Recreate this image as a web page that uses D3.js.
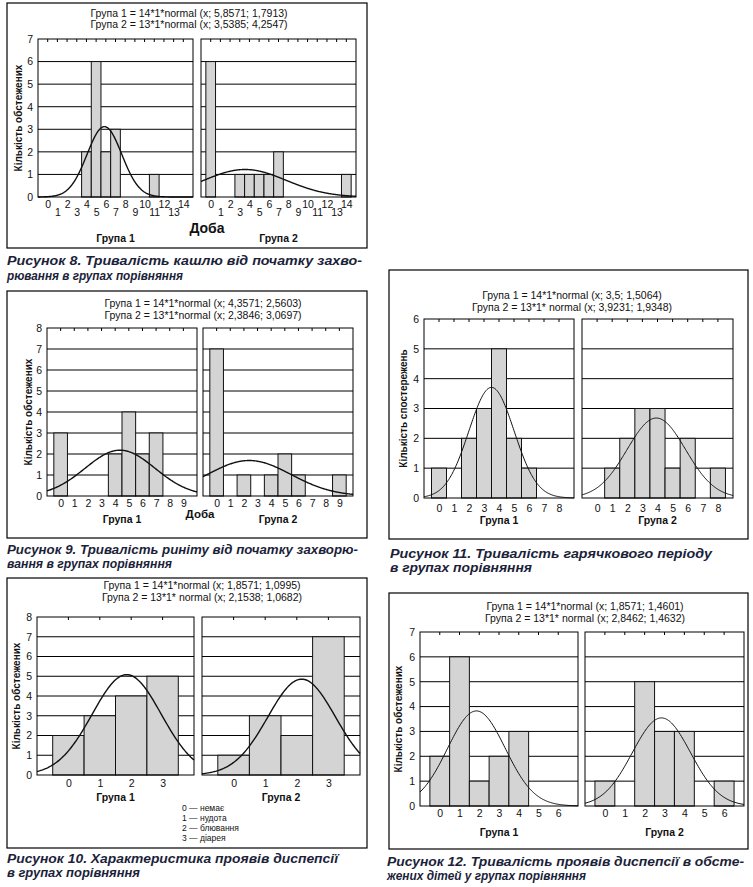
<!DOCTYPE html>
<html>
<head>
<meta charset="utf-8">
<script src="https://cdn.jsdelivr.net/npm/d3@7"></script>
<style>
body { margin: 0; background: #fff; }
svg { display: block; }
text { font-family: "Liberation Sans", Arial, sans-serif; fill: #111; }
</style>
</head>
<body>
<svg id="chart" width="753" height="887"></svg>
<script>
// ---- data ----
var groupNames = ["Група 1", "Група 2"];

// Fig 8: cough duration (days)
var fig8Days = [0, 1, 2, 3, 4, 5, 6, 7, 8, 9, 10, 11, 12, 13, 14];
var fig8Group1 = [0, 0, 0, 0, 2, 6, 2, 3, 0, 0, 0, 1, 0, 0, 0];
var fig8Group2 = [6, 0, 0, 1, 1, 1, 1, 2, 0, 0, 0, 0, 0, 0, 1];
var fig8Fit = [[14, 5.8571, 1.7913], [13, 3.5385, 4.2547]];

// Fig 9: rhinitis duration (days)
var fig9Days = [0, 1, 2, 3, 4, 5, 6, 7, 8, 9];
var fig9Group1 = [3, 0, 0, 0, 2, 4, 2, 3, 0, 0];
var fig9Group2 = [7, 0, 1, 0, 1, 2, 1, 0, 0, 1];
var fig9Fit = [[14, 4.3571, 2.5603], [13, 2.3846, 3.0697]];

// Fig 10: dyspepsia type
var fig10Codes = [0, 1, 2, 3];
var fig10Group1 = [2, 3, 4, 5];
var fig10Group2 = [1, 3, 2, 7];
var fig10Fit = [[14, 1.8571, 1.0995], [13, 2.1538, 1.0682]];
var fig10Legend = ["0 — немає", "1 — нудота", "2 — блювання", "3 — діарея"];

// Fig 11: fever duration
var fig11Days = [0, 1, 2, 3, 4, 5, 6, 7, 8];
var fig11Group1 = [1, 0, 2, 3, 5, 2, 1, 0, 0];
var fig11Group2 = [0, 1, 2, 3, 3, 1, 2, 0, 1];
var fig11Fit = [[14, 3.5, 1.5064], [13, 3.9231, 1.9348]];

// Fig 12: dyspepsia duration
var fig12Days = [0, 1, 2, 3, 4, 5, 6];
var fig12Group1 = [2, 6, 1, 2, 3, 0, 0];
var fig12Group2 = [1, 0, 5, 3, 3, 0, 1];
var fig12Fit = [[14, 1.8571, 1.4601], [13, 2.8462, 1.4632]];

var svg = d3.select("#chart");
var intFmt = d3.format("d");

function comma(v) { return String(v).replace(".", ","); }

// the fitted curve named in each figure title: n * 1 * normal(x; mean; sd)
function normalPoints(fit, domain) {
    var n = fit[0], m = fit[1], s = fit[2];
    return d3.range(domain[0], domain[1] + 0.0001, 0.05).map(function (x) {
        return [x, n * Math.exp(-0.5 * Math.pow((x - m) / s, 2)) / (s * Math.sqrt(2 * Math.PI))];
    });
}

function drawPanel(g, fig, p, values, fit) {
    var x0 = fig.panels[p][0], x1 = fig.panels[p][1];
    var xScale = d3.scaleLinear().domain(fig.xDomain).range([x0, x1]);
    var yScale = d3.scaleLinear().domain([0, fig.yMax]).range([fig.bottom, fig.top]);

    // horizontal grid
    g.selectAll("line.grid-" + p)
        .data(d3.range(1, fig.yMax))
        .enter().append("line")
        .attr("x1", x0).attr("x2", x1)
        .attr("y1", function (d) { return yScale(d); })
        .attr("y2", function (d) { return yScale(d); })
        .attr("stroke", "#000").attr("stroke-width", 1);

    // bars
    g.selectAll("rect.bar-" + p)
        .data(fig.cats.map(function (c, i) { return { c: c, v: values[i] }; })
            .filter(function (d) { return d.v > 0; }))
        .enter().append("rect")
        .attr("x", function (d) { return xScale(d.c - 0.5); })
        .attr("width", function (d) { return xScale(d.c + 0.5) - xScale(d.c - 0.5); })
        .attr("y", function (d) { return yScale(d.v); })
        .attr("height", function (d) { return yScale(0) - yScale(d.v); })
        .attr("fill", "#d4d4d4")
        .attr("stroke", "#111")
        .attr("stroke-width", 1);

    // normal fit
    var line = d3.line()
        .x(function (d) { return xScale(d[0]); })
        .y(function (d) { return yScale(d[1]); });
    g.append("path")
        .attr("d", line(normalPoints(fit, fig.xDomain)))
        .attr("fill", "none")
        .attr("stroke", "#111")
        .attr("stroke-width", fig.curveWidth);

    // frame
    g.append("rect")
        .attr("x", x0).attr("y", fig.top)
        .attr("width", x1 - x0).attr("height", fig.bottom - fig.top)
        .attr("fill", "none").attr("stroke", "#000").attr("stroke-width", 1);

    // small inward ticks on the top edge
    g.selectAll("line.tt-" + p)
        .data(fig.cats)
        .enter().append("line")
        .attr("x1", function (d) { return xScale(d); })
        .attr("x2", function (d) { return xScale(d); })
        .attr("y1", fig.top).attr("y2", fig.top + 3)
        .attr("stroke", "#000").attr("stroke-width", 1);

    // x axis labels
    var xAxis = g.append("g")
        .attr("transform", "translate(0," + fig.tickY + ")")
        .call(d3.axisBottom(xScale).tickValues(fig.cats).tickFormat(intFmt).tickSize(0).tickPadding(0));
    xAxis.select(".domain").remove();
    xAxis.selectAll("text")
        .attr("y", function (d) { return fig.stagger && d % 2 ? fig.stagger : 0; })
        .attr("dy", 0)
        .style("font-size", fig.tickSize + "px")
        .style("font-family", "'Liberation Sans', Arial, sans-serif")
        .attr("fill", "#111");

    // y axis labels only on the left panel
    if (p === 0) {
        var yAxis = g.append("g")
            .attr("transform", "translate(" + x0 + ",0)")
            .call(d3.axisLeft(yScale).tickValues(d3.range(0, fig.yMax + 1)).tickFormat(intFmt)
                .tickSize(0).tickPadding(5));
        yAxis.select(".domain").remove();
        yAxis.selectAll("text")
            .style("font-size", fig.tickSize + "px")
            .style("font-family", "'Liberation Sans', Arial, sans-serif")
            .attr("fill", "#111");
    }

    // group name
    g.append("text")
        .attr("x", (x0 + x1) / 2).attr("y", fig.groupY)
        .attr("text-anchor", "middle")
        .style("font-size", "10.5px").style("font-weight", "bold")
        .text(groupNames[p]);
}

function drawFigure(fig) {
    var g = svg.append("g");

    g.append("rect")
        .attr("x", fig.box[0]).attr("y", fig.box[1])
        .attr("width", fig.box[2]).attr("height", fig.box[3])
        .attr("fill", "none").attr("stroke", "#000").attr("stroke-width", 1.2);

    fig.fit.forEach(function (f, i) {
        g.append("text")
            .attr("x", fig.titleX).attr("y", fig.titleY[i])
            .attr("text-anchor", "middle")
            .style("font-size", "10.5px")
            .text(groupNames[i] + " = " + f[0] + "*1*" + (i === 1 && fig.spaced ? " " : "") +
                "normal (x; " + comma(f[1]) + "; " + comma(f[2]) + ")");
    });

    drawPanel(g, fig, 0, fig.g1, fig.fit[0]);
    drawPanel(g, fig, 1, fig.g2, fig.fit[1]);

    var cy = (fig.top + fig.bottom) / 2;
    g.append("text")
        .attr("transform", "translate(" + fig.yLabelX + "," + cy + ") rotate(-90)")
        .attr("text-anchor", "middle")
        .attr("dy", "0.35em")
        .style("font-size", "10px").style("font-weight", "bold")
        .text(fig.yLabel);

    if (fig.doba) {
        g.append("text")
            .attr("x", fig.doba.x).attr("y", fig.doba.y)
            .attr("text-anchor", "middle")
            .style("font-size", fig.doba.size + "px").style("font-weight", "bold")
            .text("Доба");
    }

    if (fig.legend) {
        g.selectAll("text.legend")
            .data(fig.legend.items)
            .enter().append("text")
            .attr("x", fig.legend.x)
            .attr("y", function (d, i) { return fig.legend.y + i * 10; })
            .style("font-size", "8.5px")
            .text(function (d) { return d; });
    }

    fig.caption.forEach(function (c) {
        g.append("text")
            .attr("x", fig.captionX).attr("y", c.y)
            .attr("textLength", c.w).attr("lengthAdjust", "spacingAndGlyphs")
            .style("font-size", fig.captionSize + "px").style("font-weight", "bold").style("font-style", "italic")
            .style("fill", "#1c1f3a")
            .text(c.t);
    });
}

var yLabelExam = "Кількість обстежених";

drawFigure({
    cats: fig8Days, g1: fig8Group1, g2: fig8Group2, fit: fig8Fit,
    box: [7, 3, 360, 245], titleX: 189, titleY: [17, 28], spaced: false,
    top: 39, bottom: 197, panels: [[38, 193], [201, 356]],
    xDomain: [-1, 15], yMax: 7, tickY: 208, stagger: 8, tickSize: 10.5,
    groupY: 242, yLabelX: 18, yLabel: yLabelExam, curveWidth: 1.4,
    doba: { x: 207, y: 233, size: 14 },
    captionX: 7, captionSize: 13.5,
    caption: [
        { t: "Рисунок 8. Тривалість кашлю від початку захво-", y: 265, w: 355 },
        { t: "рювання в групах порівняння", y: 280, w: 176 }
    ]
});

drawFigure({
    cats: fig9Days, g1: fig9Group1, g2: fig9Group2, fit: fig9Fit,
    box: [7, 291, 360, 247], titleX: 203, titleY: [307, 319], spaced: false,
    top: 328, bottom: 496, panels: [[47, 197], [203, 353]],
    xDomain: [-1, 10], yMax: 8, tickY: 507, stagger: 0, tickSize: 10.5,
    groupY: 523, yLabelX: 28, yLabel: yLabelExam, curveWidth: 1.4,
    doba: { x: 200, y: 518, size: 11.5 },
    captionX: 7, captionSize: 13.5,
    caption: [
        { t: "Рисунок 9. Тривалість риніту від початку захворю-", y: 554, w: 351 },
        { t: "вання в групах порівняння", y: 568, w: 165 }
    ]
});

drawFigure({
    cats: fig10Codes, g1: fig10Group1, g2: fig10Group2, fit: fig10Fit,
    box: [7, 578, 360, 270], titleX: 202, titleY: [589, 601], spaced: true,
    top: 617, bottom: 775, panels: [[37, 194], [202, 360]],
    xDomain: [-1, 4], yMax: 8, tickY: 787, stagger: 0, tickSize: 10.5,
    groupY: 801, yLabelX: 16, yLabel: yLabelExam, curveWidth: 1.4,
    legend: { x: 182, y: 811, items: fig10Legend },
    captionX: 7, captionSize: 13,
    caption: [
        { t: "Рисунок 10. Характеристика проявів диспепсії", y: 863, w: 331 },
        { t: "в групах порівняння", y: 877, w: 133 }
    ]
});

drawFigure({
    cats: fig11Days, g1: fig11Group1, g2: fig11Group2, fit: fig11Fit,
    box: [389, 270, 359, 269], titleX: 572, titleY: [299, 311], spaced: true,
    top: 319, bottom: 498, panels: [[424, 574], [582, 733]],
    xDomain: [-1, 9], yMax: 6, tickY: 512, stagger: 0, tickSize: 10.5,
    groupY: 524, yLabelX: 403, yLabel: "Кількість спостережень", curveWidth: 1,
    captionX: 390, captionSize: 13.5,
    caption: [
        { t: "Рисунок 11. Тривалість гарячкового періоду", y: 558, w: 322 },
        { t: "в групах порівняння", y: 572, w: 142 }
    ]
});

drawFigure({
    cats: fig12Days, g1: fig12Group1, g2: fig12Group2, fit: fig12Fit,
    box: [389, 593, 359, 256], titleX: 585, titleY: [610, 622], spaced: true,
    top: 632, bottom: 806, panels: [[420, 578], [585, 744]],
    xDomain: [-1, 7], yMax: 7, tickY: 817, stagger: 0, tickSize: 10.5,
    groupY: 836, yLabelX: 398, yLabel: yLabelExam, curveWidth: 1,
    captionX: 387, captionSize: 12.5,
    caption: [
        { t: "Рисунок 12. Тривалість проявів диспепсії в обсте-", y: 866, w: 357 },
        { t: "жених дітей у групах порівняння", y: 880, w: 199 }
    ]
});
</script>
</body>
</html>
